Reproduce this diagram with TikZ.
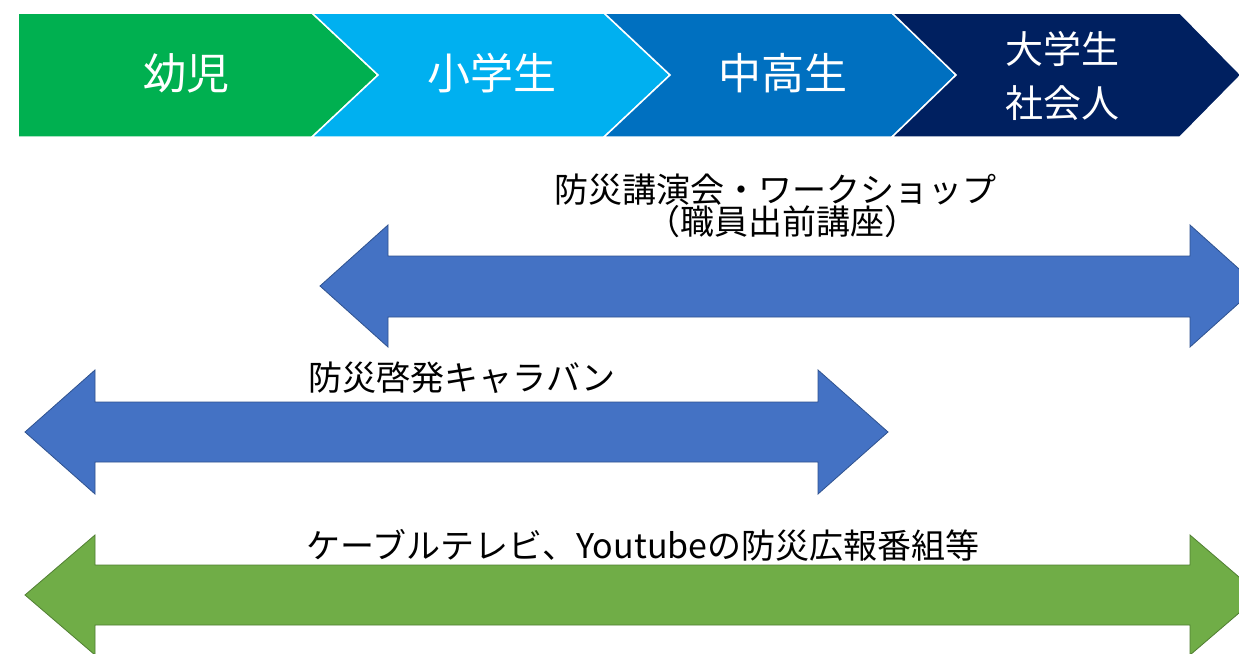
\documentclass[tikz,border=0pt]{standalone}
\usepackage{fontspec}
\newfontfamily\jp{Noto Sans CJK JP}
\definecolor{cgreen}{HTML}{00B050}
\definecolor{clblue}{HTML}{00B0F0}
\definecolor{cmblue}{HTML}{0070C0}
\definecolor{cnavy}{HTML}{002060}
\definecolor{ablue}{HTML}{4472C4}
\definecolor{ablueline}{HTML}{2F528F}
\definecolor{agreen}{HTML}{70AD47}
\definecolor{agreenline}{HTML}{507E32}
\tikzset{
  chev/.style={draw=white, line width=1.5pt, line join=miter},
  bandtext/.style={text=white, font=\jp\fontsize{43}{50}\selectfont, inner sep=0pt, align=center},
  bandtextsmall/.style={text=white, font=\jp\fontsize{38}{54}\selectfont, inner sep=0pt, align=center},
  barrow/.style={fill=ablue, draw=ablueline, line width=0.8pt},
  garrow/.style={fill=agreen, draw=agreenline, line width=0.8pt},
  lbl/.style={text=black, font=\jp\fontsize{34}{36}\selectfont, inner sep=0pt, align=center}
}
\begin{document}
\begin{tikzpicture}[x=1pt,y=-1pt]
\useasboundingbox (0,0) rectangle (1239,653);
\clip (0,0) rectangle (1239,653);
\fill[white] (0,0) rectangle (1239,653);
% chevron band
\path[chev, fill=cgreen] (18,13) -- (312,13) -- (378,75) -- (312,137) -- (18,137) -- cycle;
\path[chev, fill=clblue] (312,13) -- (604,13) -- (670,75) -- (604,137) -- (312,137) -- (378,75) -- cycle;
\path[chev, fill=cmblue] (604,13) -- (892,13) -- (956,75) -- (892,137) -- (604,137) -- (670,75) -- cycle;
\path[chev, fill=cnavy] (892,13) -- (1180,13) -- (1241,75) -- (1180,137) -- (892,137) -- (956,75) -- cycle;
\node[bandtext] (s1) at (186,73) {幼児};
\node[bandtext] (s2) at (492,73) {小学生};
\node[bandtext] (s3) at (783,73) {中高生};
\node[bandtextsmall] (s4) at (1062,76) {大学生\\社会人};
% arrow 1
\path[barrow] (320,286) -- (388,225) -- (388,256) -- (1190,256) -- (1190,225) -- (1258,286) -- (1190,347) -- (1190,317) -- (388,317) -- (388,347) -- cycle;
\node[lbl] (l1) at (775,190) {防災講演会・ワークショップ};
\node[lbl] (l1b) at (782,222) {（職員出前講座）};
% arrow 2
\path[barrow] (25,432) -- (95,370) -- (95,402) -- (818,402) -- (818,370) -- (888,432) -- (818,494) -- (818,462) -- (95,462) -- (95,494) -- cycle;
\node[lbl] (l2) at (462,378) {防災啓発キャラバン};
% arrow 3
\path[garrow] (25,595) -- (95,535) -- (95,565) -- (1190,565) -- (1190,535) -- (1260,595) -- (1190,655) -- (1190,625) -- (95,625) -- (95,655) -- cycle;
\node[lbl] (l3) at (643,545) {ケーブルテレビ、Youtubeの防災広報番組等};
\end{tikzpicture}
\end{document}
